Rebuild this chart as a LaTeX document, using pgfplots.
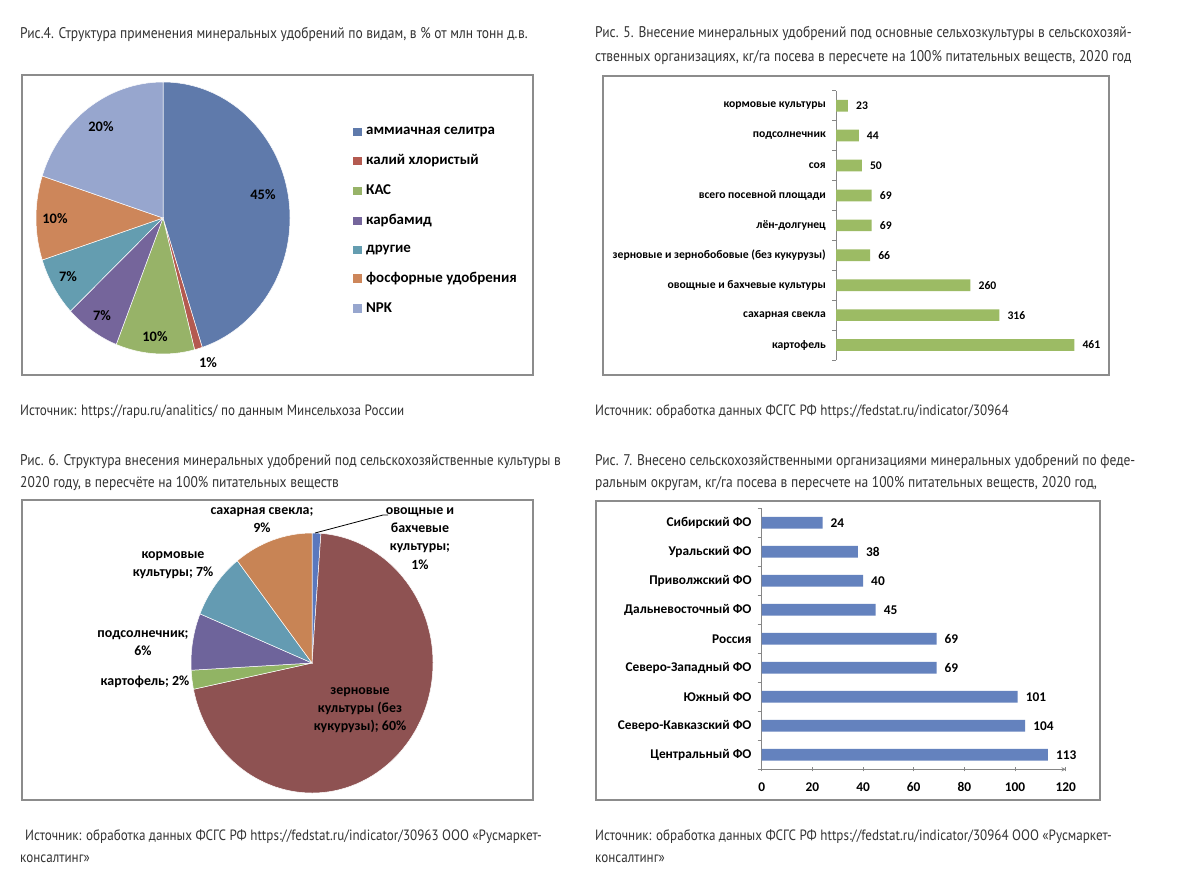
\documentclass[border=0pt]{standalone}
\usepackage{fontspec}
\setmainfont{PT Sans}[FakeStretch=0.875]
\newfontfamily\lbl{Carlito}
\usepackage{pgfplots}
\usepackage{pgfplotstable}
\pgfplotsset{compat=1.18}

\definecolor{txt}{HTML}{333333}
\definecolor{frm}{HTML}{8C8C8C}
\definecolor{axg}{HTML}{868686}
\definecolor{pA1}{HTML}{5F7AAB}
\definecolor{pA2}{HTML}{B45A50}
\definecolor{pA3}{HTML}{97B368}
\definecolor{pA4}{HTML}{75659B}
\definecolor{pA5}{HTML}{649DB0}
\definecolor{pA6}{HTML}{CD865A}
\definecolor{pA7}{HTML}{97A6CE}
\definecolor{pB1}{HTML}{5A78BE}
\definecolor{pB2}{HTML}{8E5252}
\definecolor{pB3}{HTML}{91B464}
\definecolor{pB4}{HTML}{6E649B}
\definecolor{pB5}{HTML}{649BB2}
\definecolor{pB6}{HTML}{C88455}
\definecolor{barG}{HTML}{9CBB64}
\definecolor{barB}{HTML}{6482BE}

% рис. 4
\pgfplotstableread[col sep=semicolon]{
value;color
45;pA1
1;pA2
10;pA3
7;pA4
7;pA5
10;pA6
20;pA7
}\tabPieA

% рис. 6 (доли в подписях, сектора по значениям)
\pgfplotstableread[col sep=semicolon]{
value;color
1;pB1
60;pB2
2;pB3
6;pB4
7;pB5
9;pB6
}\tabPieB

% рис. 5, снизу вверх
\pgfplotstableread[col sep=semicolon]{
idx;name;value
0;картофель;461
1;сахарная свекла;316
2;овощные и бахчевые культуры;260
3;зерновые и зернобобовые (без кукурузы);66
4;лён-долгунец;69
5;всего посевной площади;69
6;соя;50
7;подсолнечник;44
8;кормовые культуры;23
}\tabBarA

% рис. 7, снизу вверх
\pgfplotstableread[col sep=semicolon]{
idx;name;value
0;Центральный ФО;113
1;Северо-Кавказский ФО;104
2;Южный ФО;101
3;Северо-Западный ФО;69
4;Россия;69
5;Дальневосточный ФО;45
6;Приволжский ФО;40
7;Уральский ФО;38
8;Сибирский ФО;24
}\tabBarB

% сектора круговой диаграммы по часовой стрелке от 12 часов
\newcommand{\pieslices}[3]{%
  \pgfplotstablegetrowsof{#1}%
  \pgfmathtruncatemacro\pieN{\pgfplotsretval-1}%
  \def\pieTot{0}%
  \pgfplotsforeachungrouped \k in {0,...,\pieN}{%
    \pgfplotstablegetelem{\k}{value}\of#1%
    \pgfmathsetmacro\pieTot{\pieTot+\pgfplotsretval}}%
  \def\pieCum{0}%
  \pgfplotsforeachungrouped \k in {0,...,\pieN}{%
    \pgfplotstablegetelem{\k}{value}\of#1\let\pieV\pgfplotsretval
    \pgfplotstablegetelem{\k}{color}\of#1\let\pieC\pgfplotsretval
    \pgfmathsetmacro\angS{90-\pieCum/\pieTot*360}%
    \pgfmathsetmacro\angE{90-(\pieCum+\pieV)/\pieTot*360}%
    \edef\temp{\noexpand\fill[\pieC, draw=white, line width=0.5bp]
      (axis cs:0,0) -- (axis cs:{cos(\angS)},{sin(\angS)})
      arc[start angle=\angS, end angle=\angE, x radius=#2, y radius=#3] -- cycle;}%
    \temp
    \pgfmathsetmacro\pieCum{\pieCum+\pieV}}%
}

\newcommand{\ttl}{\color{txt}\fontsize{15.5}{17}\selectfont}
\newcommand{\src}{\color{txt}\fontsize{15}{17}\selectfont}

\pgfplotsset{
  hbars/.style={
    scale only axis, xbar, clip=false,
    ymin=-0.5, ymax=8.5, xmin=0,
    /pgf/number format/assume math mode=true,
    axis y line=left, axis line style={-, draw=axg, line width=0.9bp},
    ytick={0,...,8},
    minor ytick={-0.5,0.5,...,8.5},
    major tick length=0pt, minor tick length=4bp, tick align=outside,
    tick style={draw=axg, line width=0.9bp},
    yticklabel style={inner sep=0pt, xshift=-10bp},
    nodes near coords, nodes near coords align=horizontal,
    every node near coord/.append style={inner sep=0pt, xshift=8bp, text=black},
  },
}

\begin{document}
\begin{tikzpicture}[x=1bp, y=-1bp]
\fill[white] (0,0) rectangle (1181,889);
\path[use as bounding box] (0,0) rectangle (1181,889);
\coordinate (cA) at (163,218);
\coordinate (cB) at (836,360);
\coordinate (cC) at (312,663);
\coordinate (cD) at (761.7,769.3);

% заголовки и источники
\node[anchor=base west, inner sep=0] at (20,38) {\ttl Рис.4. Структура применения минеральных удобрений по видам, в \% от млн тонн д.в.};
\node[anchor=base west, inner sep=0] at (595,37) {\ttl Рис. 5. Внесение минеральных удобрений под основные сельхозкультуры в сельскохозяй-};
\node[anchor=base west, inner sep=0] at (595,61) {\ttl ственных организациях, кг/га посева в пересчете на 100\% питательных веществ, 2020 год};
\node[anchor=base west, inner sep=0] at (20,415) {\src Источник: https://rapu.ru/analitics/ по данным Минсельхоза России};
\node[anchor=base west, inner sep=0] at (595,415) {\src Источник: обработка данных ФСГС РФ https://fedstat.ru/indicator/30964};
\node[anchor=base west, inner sep=0] at (20,465) {\ttl Рис. 6. Структура внесения минеральных удобрений под сельскохозяйственные культуры в};
\node[anchor=base west, inner sep=0] at (20,487) {\ttl 2020 году, в пересчёте на 100\% питательных веществ};
\node[anchor=base west, inner sep=0] at (595,465) {\ttl Рис. 7. Внесено сельскохозяйственными организациями минеральных удобрений по феде-};
\node[anchor=base west, inner sep=0] at (595,487) {\ttl ральным округам, кг/га посева в пересчете на 100\% питательных веществ, 2020 год,};
\node[anchor=base west, inner sep=0] at (25,840) {\src Источник: обработка данных ФСГС РФ https://fedstat.ru/indicator/30963 ООО «Русмаркет-};
\node[anchor=base west, inner sep=0] at (20,862) {\src консалтинг»};
\node[anchor=base west, inner sep=0] at (595,840) {\src Источник: обработка данных ФСГС РФ https://fedstat.ru/indicator/30964 ООО «Русмаркет-};
\node[anchor=base west, inner sep=0] at (595,862) {\src консалтинг»};

% рамки
\draw[frm, line width=1.4bp] (22,75) rectangle (533,375);
\draw[frm, line width=1.4bp] (603,76) rectangle (1109,375);
\draw[frm, line width=1.4bp] (22,500) rectangle (533,800);
\draw[frm, line width=1.4bp] (596,501) rectangle (1100,800);

% рис. 4
\begin{axis}[at={(cA)}, anchor=center, x=127bp, y=136bp,
  xmin=-1, xmax=1, ymin=-1, ymax=1, hide axis, clip=false,
  legend style={at={(axis description cs:1.249,0.838)}, anchor=north west,
    draw=none, fill=none, inner sep=0pt, row sep=16.5bp,
    font=\lbl\bfseries\fontsize{15}{16}\selectfont,
    nodes={inner sep=1bp},
    /tikz/every odd column/.append style={column sep=4bp}},
  legend cell align=left,
  legend image code/.code={\fill[#1] (0bp,-3.65bp) rectangle (7.3bp,3.65bp);}]
\pieslices{\tabPieA}{127bp}{136bp}
\addlegendimage{pA1}\addlegendentry{аммиачная селитра}
\addlegendimage{pA2}\addlegendentry{калий хлористый}
\addlegendimage{pA3}\addlegendentry{КАС}
\addlegendimage{pA4}\addlegendentry{карбамид}
\addlegendimage{pA5}\addlegendentry{другие}
\addlegendimage{pA6}\addlegendentry{фосфорные удобрения}
\addlegendimage{pA7}\addlegendentry{NPK}
\end{axis}
\begin{scope}[every node/.style={font=\lbl\bfseries\fontsize{14.5}{16}\selectfont, inner sep=0}]
\node at (263,195) {45\%};
\node at (208,363) {1\%};
\node at (155,337) {10\%};
\node at (102,316) {7\%};
\node at (68,277) {7\%};
\node at (55,219) {10\%};
\node at (101,127) {20\%};
\end{scope}

% рис. 5
\begin{axis}[hbars, at={(cB)}, anchor=south west,
  width=258.5bp, height=269.3bp, xmax=500, bar width=11.7bp,
  axis x line=none,
  yticklabels from table={\tabBarA}{name},
  yticklabel style={font=\lbl\bfseries\fontsize{11.7}{13}\selectfont},
  every node near coord/.append style={font=\lbl\bfseries\fontsize{11.7}{13}\selectfont}]
\addplot[fill=barG, draw=none] table[x=value, y=idx]{\tabBarA};
\end{axis}

% рис. 6
\begin{axis}[at={(cC)}, anchor=center, x=121bp, y=130bp,
  xmin=-1, xmax=1, ymin=-1, ymax=1, hide axis, clip=false]
\pieslices{\tabPieB}{121bp}{130bp}
\end{axis}
\draw[black, line width=0.8bp] (315,533) -- (383,515) -- (388,515);
\begin{scope}[every node/.style={font=\lbl\bfseries\fontsize{14}{18.3}\selectfont, inner sep=0, align=center}]
\node at (262,520) {сахарная свекла;\\9\%};
\node at (420,538.5) {овощные и\\бахчевые\\культуры;\\1\%};
\node at (173,565) {кормовые\\культуры; 7\%};
\node at (143,643) {подсолнечник;\\6\%};
\node at (145,682) {картофель; 2\%};
\node at (360,710) {зерновые\\культуры (без\\кукурузы); 60\%};
\end{scope}

% рис. 7
\begin{axis}[hbars, at={(cD)}, anchor=south west,
  width=304bp, height=261bp, xmax=120, bar width=11.7bp,
  axis x line=bottom,
  xtick={0,20,...,120}, minor xtick={0,20,...,120},
  xticklabel style={font=\lbl\bfseries\fontsize{13.4}{15}\selectfont, inner sep=0pt, yshift=-13bp},
  yticklabels from table={\tabBarB}{name},
  yticklabel style={font=\lbl\bfseries\fontsize{13.4}{15}\selectfont},
  every node near coord/.append style={font=\lbl\bfseries\fontsize{13.4}{15}\selectfont}]
\addplot[fill=barB, draw=none] table[x=value, y=idx]{\tabBarB};
\end{axis}
\end{tikzpicture}
\end{document}
